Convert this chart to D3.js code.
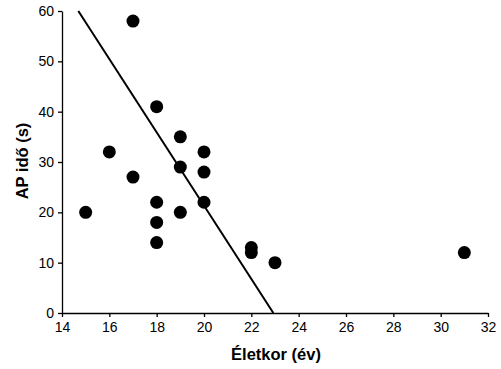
<!DOCTYPE html>
<html><head><meta charset="utf-8">
<script src="https://cdn.jsdelivr.net/npm/d3@7"></script>
<style>body{margin:0;background:#fff}svg{display:block}</style>
</head><body>
<svg id="c" width="501" height="369"></svg>
<script>
const ageX = [15,16,17,17,18,18,18,18,19,19,19,20,20,20,22,22,23,31];
const apY  = [20,32,58,27,41,22,18,14,35,29,20,32,28,22,13,12,10,12];
const trendX = [14.69, 22.93];
const trendY = [60, 0];
const xTicks = [14,16,18,20,22,24,26,28,30,32];
const yTicks = [0,10,20,30,40,50,60];
const xTitle = "Életkor (év)";
const yTitle = "AP idő (s)";

const svg = d3.select("#c");
const x = d3.scaleLinear().domain([14,32]).range([62,488]);
const y = d3.scaleLinear().domain([0,60]).range([313,11]);
const font = "'Liberation Sans', Arial, sans-serif";

const xa = svg.append("g").attr("transform","translate(0,313)")
  .call(d3.axisBottom(x).tickValues(xTicks).tickSize(4).tickSizeOuter(0).tickPadding(5));
const ya = svg.append("g").attr("transform","translate(62,0)")
  .call(d3.axisLeft(y).tickValues(yTicks).tickSize(4).tickSizeOuter(0).tickPadding(4));
[xa,ya].forEach(a=>{
  a.selectAll("path,line").attr("stroke","#000").attr("stroke-width",1.3);
  a.selectAll("text").attr("font-family",font).attr("font-size",14).attr("fill","#000");
});

const pts = ageX.map((d,i)=>[d,apY[i]]);
svg.append("g").selectAll("circle").data(pts).join("circle")
  .attr("cx",d=>x(d[0])).attr("cy",d=>y(d[1])).attr("r",6.5).attr("fill","#000");

svg.append("line")
  .attr("x1",x(trendX[0])).attr("y1",y(trendY[0]))
  .attr("x2",x(trendX[1])).attr("y2",y(trendY[1]))
  .attr("stroke","#000").attr("stroke-width",2);

svg.append("text").attr("x",276).attr("y",360).attr("text-anchor","middle")
  .attr("font-family",font).attr("font-size",16.5).attr("font-weight","bold").text(xTitle);
svg.append("text").attr("transform","translate(28,161) rotate(-90)").attr("text-anchor","middle")
  .attr("font-family",font).attr("font-size",16.5).attr("font-weight","bold").text(yTitle);
</script>
</body></html>
